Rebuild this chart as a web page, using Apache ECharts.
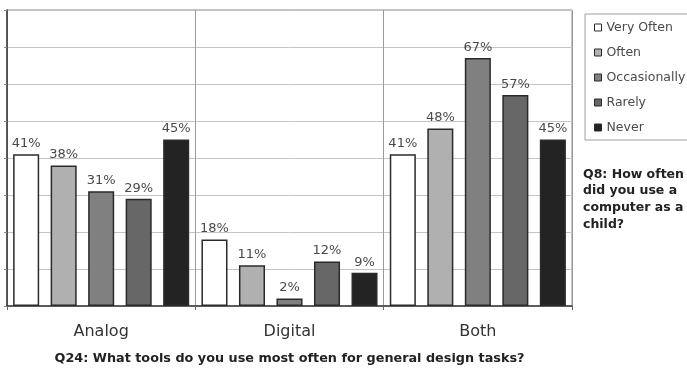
<!DOCTYPE html>
<html>
<head>
<meta charset="utf-8">
<script src="https://cdn.jsdelivr.net/npm/echarts@6/dist/echarts.min.js"></script>
<style>
  html, body { margin: 0; padding: 0; background: #fff; }
  #chart { width: 687px; height: 370px; }
</style>
</head>
<body>
<div id="chart"></div>
<script>
// categories along the x axis
var categories = ['Analog', 'Digital', 'Both'];

// Q8 answers, percent per category
var veryOften = [41, 18, 41];
var often = [38, 11, 48];
var occasionally = [31, 2, 67];
var rarely = [29, 12, 57];
var never = [45, 9, 45];

var seriesNames = ['Very Often', 'Often', 'Occasionally', 'Rarely', 'Never'];
var seriesData = [veryOften, often, occasionally, rarely, never];
var seriesColors = ['#ffffff', '#b0b0b0', '#808080', '#676767', '#232323'];

var xTitle = 'Q24: What tools do you use most often for general design tasks?';
var sideNote = 'Q8: How often\ndid you use a\ncomputer as a\nchild?';

var font = 'DejaVu Sans';

var chart = echarts.init(document.getElementById('chart'), null, { renderer: 'canvas' });

var series = seriesNames.map(function (name, i) {
    return {
        name: name,
        type: 'bar',
        data: seriesData[i],
        barGap: '44%',
        barCategoryGap: '6.5%',
        itemStyle: {
            color: seriesColors[i],
            borderColor: '#2a2a2a',
            borderWidth: 1.5
        },
        label: {
            show: true,
            position: 'top',
            distance: 4,
            formatter: '{c}%',
            color: '#4a4a4a',
            fontFamily: font,
            fontSize: 13
        },
        animation: false
    };
});

var option = {
    animation: false,
    grid: {
        left: 7,
        top: 10,
        right: 115,
        bottom: 63,
        show: true,
        borderColor: '#8a8a8a',
        borderWidth: 1
    },
    legend: {
        orient: 'vertical',
        left: 585,
        top: 14,
        padding: [7, 14, 6, 9],
        itemGap: 12,
        itemWidth: 7,
        itemHeight: 7,
        icon: 'rect',
        borderColor: '#a0a0a0',
        borderWidth: 1,
        data: seriesNames,
        itemStyle: { borderColor: '#2a2a2a', borderWidth: 1 },
        textStyle: {
            fontFamily: font,
            fontSize: 12.5,
            color: '#4a4a4a'
        }
    },
    xAxis: {
        type: 'category',
        data: categories,
        name: xTitle,
        nameLocation: 'middle',
        nameGap: 46,
        nameTextStyle: {
            fontFamily: font,
            fontSize: 12.8,
            fontWeight: 'bold',
            color: '#222'
        },
        axisLine: { lineStyle: { color: '#3a3a3a', width: 1.5 } },
        axisTick: { show: true, length: 4, lineStyle: { color: '#666' } },
        splitLine: { show: true, lineStyle: { color: '#9a9a9a', width: 1 } },
        axisLabel: {
            margin: 18,
            fontFamily: font,
            fontSize: 16,
            color: '#333'
        }
    },
    yAxis: {
        type: 'value',
        min: 0,
        max: 80,
        interval: 10,
        axisLine: { show: true, lineStyle: { color: '#3a3a3a', width: 1.5 } },
        axisTick: { show: true, length: 3, lineStyle: { color: '#888' } },
        axisLabel: { show: false },
        splitLine: { show: true, lineStyle: { color: '#c4c4c4', width: 1 } }
    },
    graphic: [{
        type: 'text',
        left: 583,
        top: 166,
        style: {
            text: sideNote,
            fontFamily: font,
            fontSize: 12.5,
            fontWeight: 'bold',
            lineHeight: 16.7,
            fill: '#222'
        }
    }],
    series: series
};

chart.setOption(option);
</script>
</body>
</html>
